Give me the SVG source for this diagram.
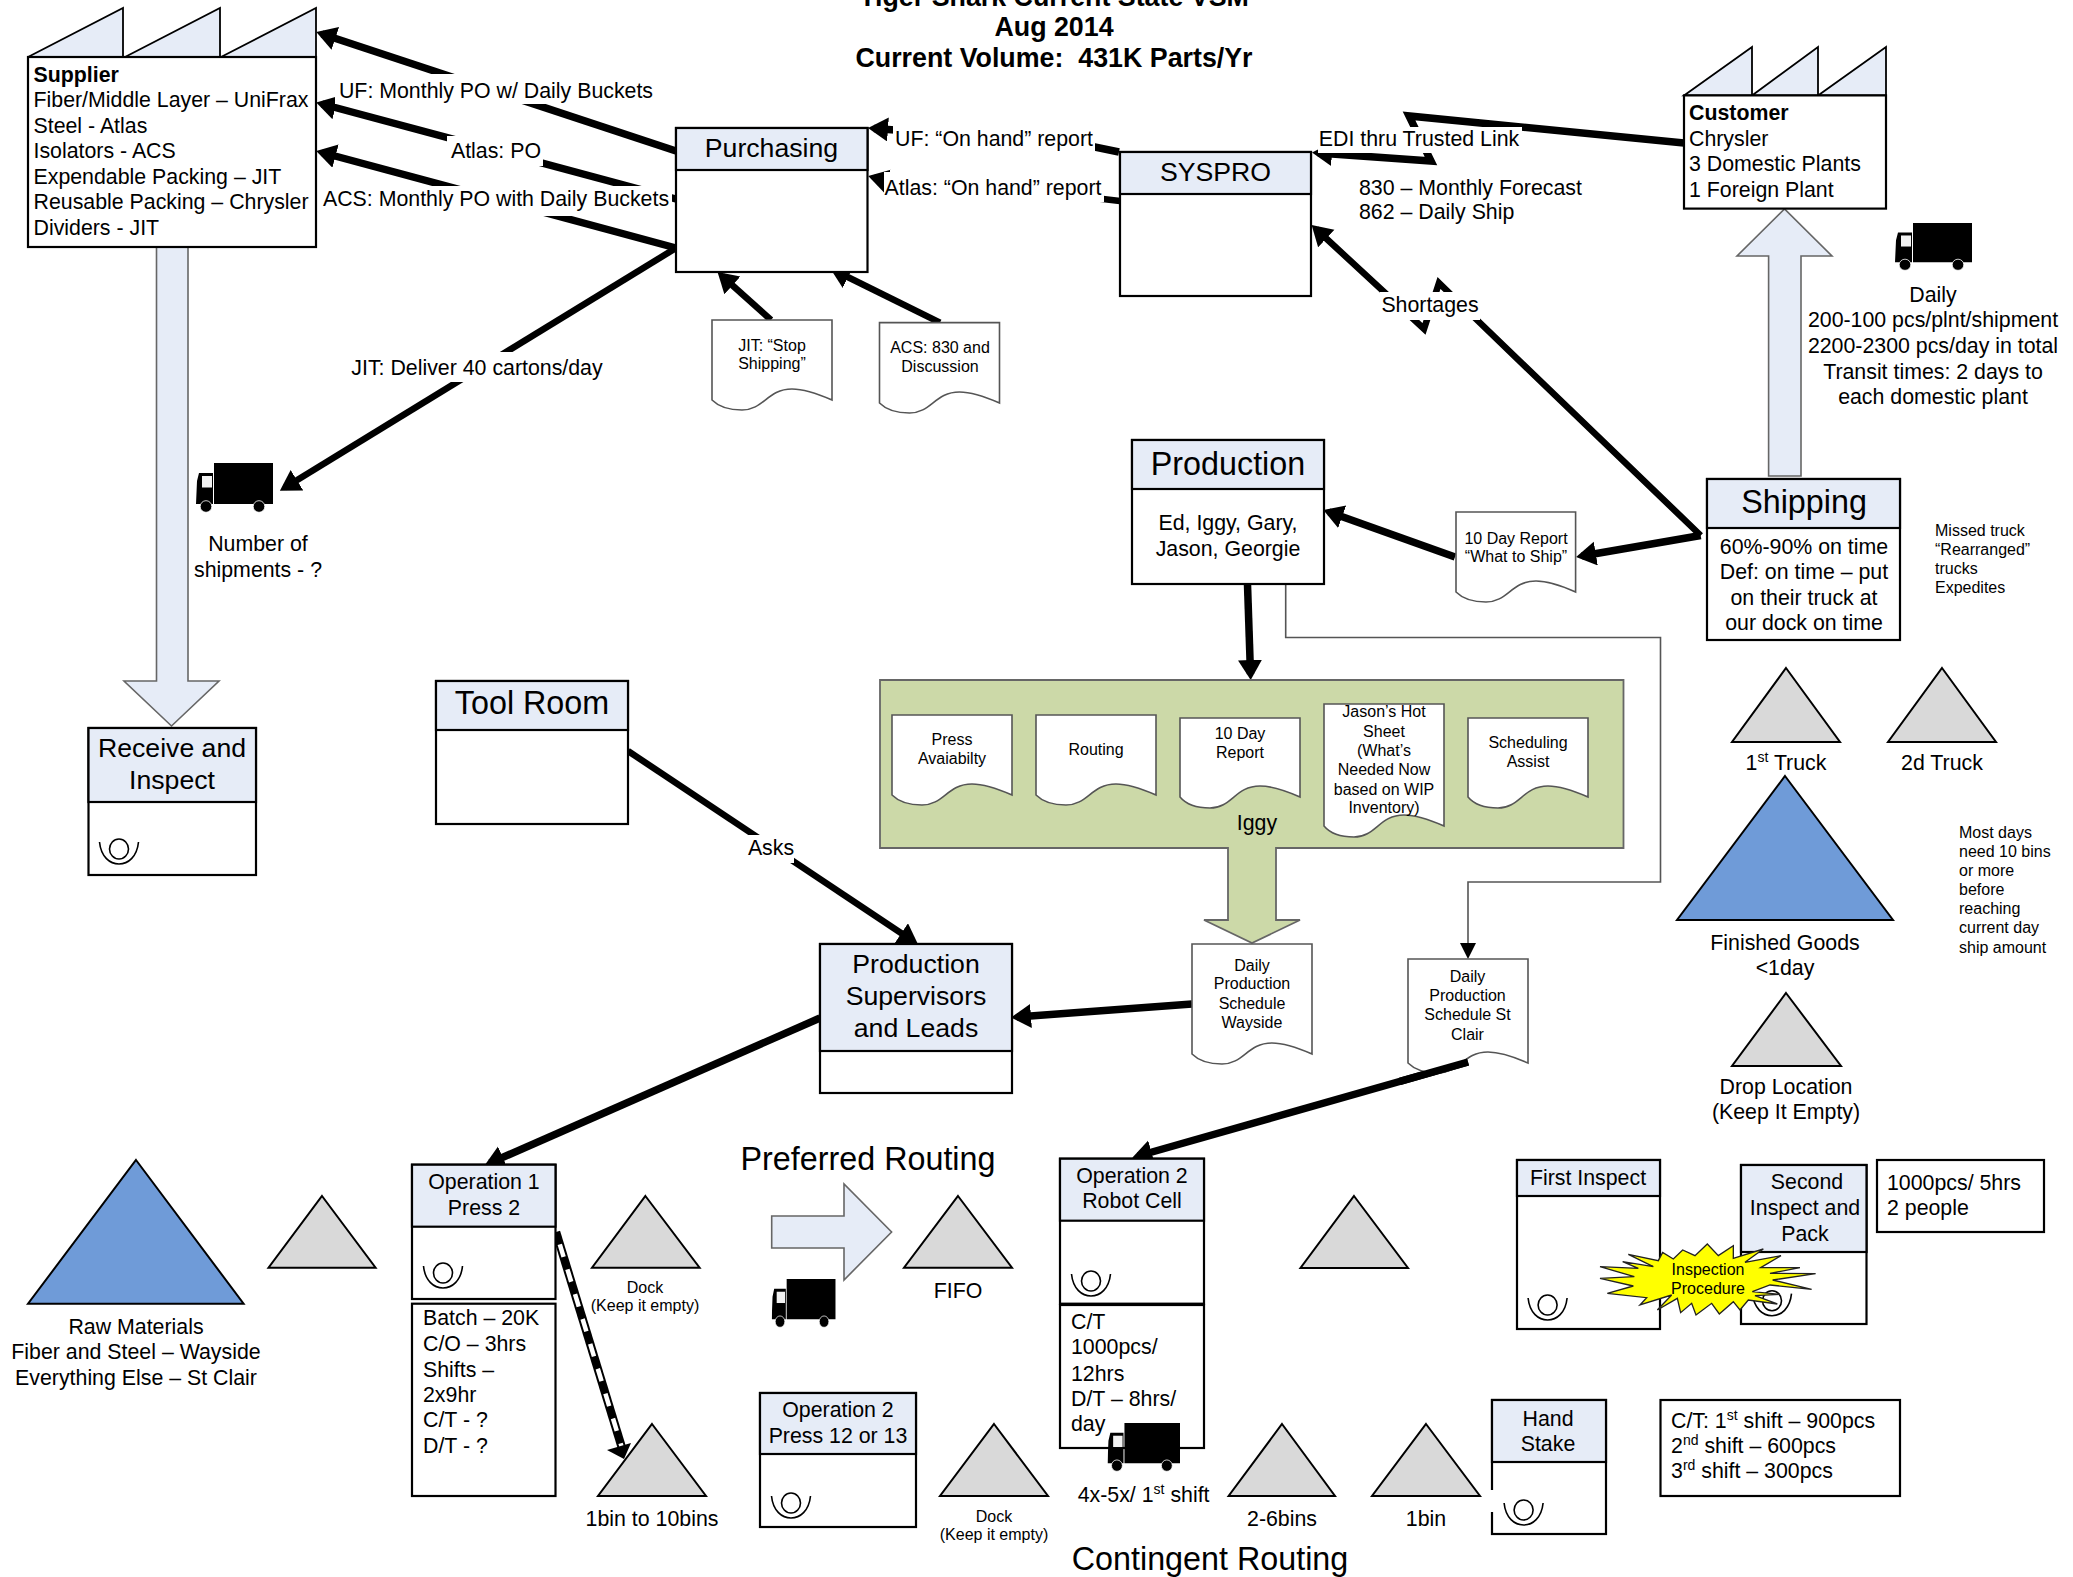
<svg xmlns="http://www.w3.org/2000/svg" width="2073" height="1577" viewBox="0 0 2073 1577">
<style>
text{font-family:"Liberation Sans",Arial,sans-serif;font-size:21.33px;fill:#000}
.m{text-anchor:middle}
.s{font-size:16px}
.h{font-size:26.67px}
.h2{font-size:32.3px}
.t{font-size:26.8px;font-weight:bold;text-anchor:middle}
.b{font-weight:bold}
.box{fill:#fff;stroke:#000;stroke-width:2.2}
.hd{fill:#e6ecf7;stroke:#000;stroke-width:2.2}
.roof{fill:#e6ecf7;stroke:#000;stroke-width:1.8}
.doc{fill:#fff;stroke:#555;stroke-width:1.6}
.tri{fill:#d9d9d9;stroke:#000;stroke-width:2}
.big{fill:#6f9bd8;stroke:#000;stroke-width:2}
.ba{fill:#e6ecf7;stroke:#666;stroke-width:1.6}
.c{fill:none;stroke:#000;stroke-width:7.5;marker-end:url(#ah)}
.c5{fill:none;stroke:#000;stroke-width:6.5;marker-end:url(#ah)}
.n{fill:none;stroke:#000;stroke-width:6.5}
.thin{fill:none;stroke:#555;stroke-width:1.6}
.lbg{fill:#fff;stroke:none}
.op{fill:none;stroke:#000;stroke-width:1.6}
</style>
<defs>
<marker id="ah" markerUnits="userSpaceOnUse" markerWidth="22" markerHeight="26" refX="14" refY="12" orient="auto"><path d="M0,0L20,12L0,24Z" fill="#000"/></marker>
<symbol id="truck" viewBox="0 0 77 50" preserveAspectRatio="none">
<path d="M18,0H77V41H18Z M0,41L1,18L3,10H17V41Z" fill="#000"/>
<rect x="6" y="13" width="10" height="11.500" fill="#f2f2f2"/>
<ellipse cx="10" cy="43.500" rx="5.800" ry="5.800" fill="#000" stroke="#fff" stroke-width="0.800"/><ellipse cx="63" cy="43.500" rx="5.800" ry="5.800" fill="#000" stroke="#fff" stroke-width="0.800"/>
</symbol>
<g id="oper"><ellipse cx="0" cy="0" rx="9.500" ry="10" class="op"/><path d="M-19.500,-7C-18,8 -9,15 0,15C9,15 18,8 19.500,-7" class="op"/></g>
</defs>

<g id="background-arrows">
<path class="ba" d="M156.500,247H188V681H219L171.500,726L124,681H156.500Z"/>
<path class="ba" d="M1768.600,476V256H1737L1784.500,209L1832,256H1801V476Z"/>
<path class="ba" d="M771.700,1216H844V1184L891.600,1232L844,1280V1248H771.700Z"/>
</g>

<g id="title">
<text class="t" x="1054" y="6">Tiger Shark Current State VSM</text>
<text class="t" x="1054" y="36">Aug 2014</text>
<text class="t" x="1054" y="67">Current Volume:&#160; 431K Parts/Yr</text>
</g>

<g id="connectors">
<path class="c" d="M676,151L322,34"/>
<path class="c" d="M676,199L322,104"/>
<path class="c" d="M676,248L322,152.500"/>
<path class="c5" d="M676,248L285,487.500"/>
<path class="c5" d="M771,320L722,276"/>
<path class="c5" d="M940,322.600L835.500,271"/>
<path class="c" d="M1119,152L1090,146L895,130L874,128.500"/>
<path class="c5" d="M1120,201L1103,199L890,182L874,177.500"/>
<path class="c" d="M1684,143L1409,116L1431,161L1318,153"/>
<path class="c5" d="M1700.700,535.500L1476,319L1439,283L1424,329L1316,229"/>
<path class="c" d="M1700.700,535.500L1582,556"/>
<path class="c" d="M1455,557L1329,512"/>
<path class="c" d="M1247.500,584.500L1250.500,674"/>
<path class="thin" d="M1285.700,584.500V637.500H1660.500V882H1468V945"/>
<path d="M1460,943H1476L1468,959Z" fill="#000"/>
<path class="c5" d="M628,751L913,941"/>
<path class="c" d="M1192,1004L1017,1017"/>
<path class="c" d="M820,1018L490,1163"/>
<path class="c" d="M1468,1062L1138,1156"/>
<path fill="none" stroke="#000" stroke-width="8.500" d="M556,1232L622,1448"/>
<path fill="none" stroke="#fff" stroke-width="4.500" stroke-dasharray="13 13" stroke-dashoffset="13" d="M556,1232L622,1448"/>
<path d="M607,1450L631,1443L624,1459Z" fill="#000"/>
</g>

<g id="connector-labels">
<rect class="lbg" x="335" y="74" width="322" height="30"/><text class="m" x="496" y="98">UF: Monthly PO w/ Daily Buckets</text>
<rect class="lbg" x="447" y="136" width="96" height="30"/><text class="m" x="496" y="158">Atlas: PO</text>
<rect class="lbg" x="322" y="186" width="350" height="30"/><text class="m" x="496" y="206">ACS: Monthly PO with Daily Buckets</text>
<rect class="lbg" x="350" y="352" width="255" height="30"/><text class="m" x="477" y="375">JIT: Deliver 40 cartons/day</text>
<rect class="lbg" x="893" y="124" width="202" height="28"/><text class="m" x="994" y="146">UF: “On hand” report</text>
<rect class="lbg" x="884" y="172" width="220" height="30"/><text class="m" x="993" y="195">Atlas: “On hand” report</text>
<rect class="lbg" x="1318" y="127" width="204" height="26"/><text class="m" x="1419" y="146">EDI thru Trusted Link</text>
<rect class="lbg" x="1380" y="292" width="100" height="28"/><text class="m" x="1430" y="312">Shortages</text>
<rect class="lbg" x="748" y="835" width="46" height="28"/><text class="m" x="771" y="855">Asks</text>
</g>

<g id="supplier">
<path class="roof" d="M28,57L123,8V57Z M125,57L220,8V57Z M221,57L316,8V57Z"/>
<rect class="box" x="28" y="57" width="288" height="190"/>
<text x="33.500" y="82" class="b">Supplier</text>
<text x="33.500" y="107">Fiber/Middle Layer – UniFrax</text>
<text x="33.500" y="133">Steel - Atlas</text>
<text x="33.500" y="158">Isolators - ACS</text>
<text x="33.500" y="184">Expendable Packing – JIT</text>
<text x="33.500" y="209">Reusable Packing – Chrysler</text>
<text x="33.500" y="235">Dividers - JIT</text>
</g>

<g id="purchasing">
<rect class="box" x="676" y="128" width="191.500" height="144"/><rect class="hd" x="676" y="128" width="191.500" height="42"/>
<text class="m h" x="771.500" y="157">Purchasing</text>
</g>
<g id="syspro">
<rect class="box" x="1120" y="152" width="191" height="144"/><rect class="hd" x="1120" y="152" width="191" height="42"/>
<text class="m h" x="1215.500" y="181">SYSPRO</text>
</g>
<g id="customer">
<path class="roof" d="M1684,95.400L1752,47V95.400Z M1752,95.400L1818,47V95.400Z M1818,95.400L1886,47V95.400Z"/>
<rect class="box" x="1684" y="95.400" width="202" height="113.200"/>
<text x="1689" y="120" class="b">Customer</text>
<text x="1689" y="146">Chrysler</text>
<text x="1689" y="171">3 Domestic Plants</text>
<text x="1689" y="197">1 Foreign Plant</text>
</g>
<g id="doc-jit">
<path class="doc" d="M712,320H832V400C816,393 802,389 792,389C767,389 764,410 742,410C727,410 717,405 712,400Z"/>
<text class="m s" x="772" y="351">JIT: “Stop</text><text class="m s" x="772" y="369">Shipping”</text>
</g>
<g id="doc-acs">
<path class="doc" d="M879.500,322.600H999.500V403C983.500,396 969.500,392 959.500,392C934.500,392 931.500,413 909.500,413C894.500,413 884.500,408 879.500,403Z"/>
<text class="m s" x="940" y="353">ACS: 830 and</text><text class="m s" x="940" y="372">Discussion</text>
</g>
<g id="truck-supplier"><use href="#truck" x="196" y="463" width="77" height="50"/>
<text class="m" x="258" y="551">Number of</text><text class="m" x="258" y="577">shipments - ?</text></g>
<g id="truck-customer"><use href="#truck" x="1895" y="223" width="77" height="48"/>
<text class="m" x="1933" y="302">Daily</text><text class="m" x="1933" y="327">200-100 pcs/plnt/shipment</text><text class="m" x="1933" y="353">2200-2300 pcs/day in total</text><text class="m" x="1933" y="379">Transit times: 2 days to</text><text class="m" x="1933" y="404">each domestic plant</text></g>
<g id="text-830"><text x="1359" y="195">830 – Monthly Forecast</text><text x="1359" y="219">862 – Daily Ship</text></g>

<g id="production">
<rect class="box" x="1132" y="440" width="192" height="144"/><rect class="hd" x="1132" y="440" width="192" height="49"/>
<text class="m h2" x="1228" y="474.500">Production</text>
<text class="m" x="1228" y="529.500">Ed, Iggy, Gary,</text><text class="m" x="1228" y="556">Jason, Georgie</text>
</g>
<g id="shipping">
<rect class="box" x="1707" y="479" width="193" height="161"/><rect class="hd" x="1707" y="479" width="193" height="49"/>
<text class="m h2" x="1804" y="513">Shipping</text>
<text class="m" x="1804" y="553.500">60%-90% on time</text><text class="m" x="1804" y="579">Def: on time – put</text><text class="m" x="1804" y="604.600">on their truck at</text><text class="m" x="1804" y="630">our dock on time</text>
</g>
<g id="note-missed"><text class="s" x="1935" y="535.500">Missed truck</text><text class="s" x="1935" y="554.500">“Rearranged”</text><text class="s" x="1935" y="573.500">trucks</text><text class="s" x="1935" y="593">Expedites</text></g>
<g id="doc-10day">
<path class="doc" d="M1456,512H1575.600V592C1560,585 1546,581 1536,581C1511,581 1508,602 1486,602C1471,602 1461,597 1456,592Z"/>
<text class="m s" x="1516" y="543.500">10 Day Report</text><text class="m s" x="1516" y="561.500">“What to Ship”</text>
</g>
<g id="receive">
<rect class="box" x="88.500" y="728" width="167.500" height="147"/><rect class="hd" x="88.500" y="728" width="167.500" height="74"/>
<text class="m h" x="172" y="757">Receive and</text><text class="m h" x="172" y="789">Inspect</text>
<use href="#oper" x="119" y="849"/>
</g>
<g id="toolroom">
<rect class="box" x="436" y="681" width="192" height="143"/><rect class="hd" x="436" y="681" width="192" height="49"/>
<text class="m h2" x="532" y="714">Tool Room</text>
</g>

<g id="green-group">
<path d="M880,680H1623.500V848H1276V920H1300L1252,943L1204,920H1228V848H880Z" fill="#ccd9a8" stroke="#666" stroke-width="1.800"/>
<path class="doc" d="M892,715H1012V795C996,788 982,784 972,784C947,784 944,805 922,805C907,805 897,800 892,795Z"/>
<text class="m s" x="952" y="745">Press</text><text class="m s" x="952" y="764">Avaiabilty</text>
<path class="doc" d="M1036,715H1156V795C1140,788 1126,784 1116,784C1091,784 1088,805 1066,805C1051,805 1041,800 1036,795Z"/>
<text class="m s" x="1096" y="755">Routing</text>
<path class="doc" d="M1180,718H1300V797C1284,790 1270,786 1260,786C1235,786 1232,808 1210,808C1195,808 1185,803 1180,797Z"/>
<text class="m s" x="1240" y="739">10 Day</text><text class="m s" x="1240" y="757.800">Report</text>
<path class="doc" d="M1324,704H1444V826C1428,819 1414,815 1404,815C1379,815 1376,837 1354,837C1339,837 1329,832 1324,826Z"/>
<text class="m s" x="1384" y="717">Jason’s Hot</text><text class="m s" x="1384" y="737">Sheet</text><text class="m s" x="1384" y="756">(What’s</text><text class="m s" x="1384" y="775">Needed Now</text><text class="m s" x="1384" y="794.600">based on WIP</text><text class="m s" x="1384" y="813">Inventory)</text>
<path class="doc" d="M1468,718H1588V797C1572,790 1558,786 1548,786C1523,786 1520,808 1498,808C1483,808 1473,803 1468,797Z"/>
<text class="m s" x="1528" y="748">Scheduling</text><text class="m s" x="1528" y="767">Assist</text>
<text class="m" x="1257" y="830">Iggy</text>
</g>

<g id="doc-wayside">
<path class="doc" d="M1192,944H1312V1054C1296,1047 1282,1043 1272,1043C1247,1043 1244,1064 1222,1064C1207,1064 1197,1059 1192,1054Z"/>
<text class="m s" x="1252" y="970.500">Daily</text><text class="m s" x="1252" y="989">Production</text><text class="m s" x="1252" y="1008.600">Schedule</text><text class="m s" x="1252" y="1028">Wayside</text>
</g>
<g id="doc-stclair">
<path class="doc" d="M1408,959H1528V1063C1512,1056 1498,1052 1488,1052C1463,1052 1460,1073 1438,1073C1423,1073 1413,1068 1408,1063Z"/>
<text class="m s" x="1467.500" y="982">Daily</text><text class="m s" x="1467.500" y="1001">Production</text><text class="m s" x="1467.500" y="1020">Schedule St</text><text class="m s" x="1467.500" y="1040">Clair</text>
</g>
<path class="n" style="stroke-width:7.5" d="M1468,1062L1400,1081.400"/>
<g id="supervisors">
<rect class="box" x="820" y="944" width="192" height="149"/><rect class="hd" x="820" y="944" width="192" height="107"/>
<text class="m h" x="916" y="973">Production</text><text class="m h" x="916" y="1005">Supervisors</text><text class="m h" x="916" y="1037">and Leads</text>
</g>

<g id="inv-1st"><path class="tri" d="M1786,668L1840,742H1732Z"/><text class="m" x="1786" y="770">1<tspan dy="-8" font-size="14">st</tspan><tspan dy="8"> Truck</tspan></text></g>
<g id="inv-2d"><path class="tri" d="M1942,668L1996,742H1888Z"/><text class="m" x="1942" y="770">2d Truck</text></g>
<g id="inv-fg"><path class="big" d="M1785,776L1893,920H1677Z"/><text class="m" x="1785" y="950">Finished Goods</text><text class="m" x="1785" y="975">&lt;1day</text></g>
<g id="note-most"><text class="s" x="1959" y="837.500">Most days</text><text class="s" x="1959" y="857">need 10 bins</text><text class="s" x="1959" y="876">or more</text><text class="s" x="1959" y="895">before</text><text class="s" x="1959" y="914">reaching</text><text class="s" x="1959" y="933">current day</text><text class="s" x="1959" y="953">ship amount</text></g>
<g id="inv-drop"><path class="tri" d="M1786,993L1841,1066H1732Z"/><text class="m" x="1786" y="1094">Drop Location</text><text class="m" x="1786" y="1119">(Keep It Empty)</text></g>

<g id="inv-raw"><path class="big" d="M136,1160L243.600,1303.700H28Z"/><text class="m" x="136" y="1334">Raw Materials</text><text class="m" x="136" y="1359">Fiber and Steel – Wayside</text><text class="m" x="136" y="1385">Everything Else – St Clair</text></g>
<g id="inv-a"><path class="tri" d="M322,1196L375.600,1267.700H268.500Z"/></g>
<g id="op1">
<rect class="box" x="412" y="1164.700" width="143.500" height="134.300"/><rect class="hd" x="412" y="1164.700" width="143.500" height="62"/>
<text class="m" x="484" y="1189">Operation 1</text><text class="m" x="484" y="1215">Press 2</text>
<use href="#oper" x="443" y="1273"/>
<rect class="box" x="412" y="1303.700" width="143.500" height="192.300"/>
<text x="423" y="1325">Batch – 20K</text><text x="423" y="1351">C/O – 3hrs</text><text x="423" y="1377">Shifts –</text><text x="423" y="1402">2x9hr</text><text x="423" y="1427">C/T - ?</text><text x="423" y="1453">D/T - ?</text>
</g>
<g id="inv-dock"><path class="tri" d="M645.400,1196L699.600,1267.700H592Z"/><text class="m s" x="645" y="1293">Dock</text><text class="m s" x="645" y="1311">(Keep it empty)</text></g>
<g id="inv-bins"><path class="tri" d="M652,1424L706,1496H598Z"/><text class="m" x="652" y="1526">1bin to 10bins</text></g>
<text class="m h2" x="868" y="1170">Preferred Routing</text>
<use href="#truck" x="771.700" y="1279" width="64" height="49"/>
<g id="inv-fifo"><path class="tri" d="M958,1196L1012,1267.700H904Z"/><text class="m" x="958" y="1298">FIFO</text></g>
<g id="op2-press">
<rect class="box" x="760" y="1393" width="156" height="134"/><rect class="hd" x="760" y="1393" width="156" height="61"/>
<text class="m" x="838" y="1417">Operation 2</text><text class="m" x="838" y="1443">Press 12 or 13</text>
<use href="#oper" x="791" y="1503"/>
</g>
<g id="inv-dock2"><path class="tri" d="M994,1424L1048,1496H940Z"/><text class="m s" x="994" y="1522">Dock</text><text class="m s" x="994" y="1540">(Keep it empty)</text></g>
<g id="op2-robot">
<rect class="box" x="1060" y="1158.700" width="144" height="145"/><rect class="hd" x="1060" y="1158.700" width="144" height="62"/>
<text class="m" x="1132" y="1183">Operation 2</text><text class="m" x="1132" y="1208">Robot Cell</text>
<use href="#oper" x="1091" y="1281"/>
<rect class="box" x="1060" y="1305" width="144" height="143"/>
<text x="1071" y="1329">C/T</text><text x="1071" y="1354">1000pcs/</text><text x="1071" y="1381">12hrs</text><text x="1071" y="1406">D/T – 8hrs/</text><text x="1071" y="1431">day</text>
</g>
<g id="truck-contingent"><use href="#truck" x="1107.500" y="1423" width="72.500" height="49"/>
<text class="m" x="1143.600" y="1502">4x-5x/ 1<tspan dy="-8" font-size="14">st</tspan><tspan dy="8"> shift</tspan></text></g>
<g id="inv-b"><path class="tri" d="M1354,1196L1408,1268H1300.500Z"/></g>
<g id="inv-26"><path class="tri" d="M1282,1424L1335,1496H1228.600Z"/><text class="m" x="1282" y="1526">2-6bins</text></g>
<g id="inv-1bin"><path class="tri" d="M1426,1424L1480,1496H1372Z"/><text class="m" x="1426" y="1526">1bin</text></g>
<g id="handstake">
<rect class="box" x="1492" y="1400" width="114" height="134"/><rect class="hd" x="1492" y="1400" width="114" height="62"/>
<text class="m" x="1548" y="1425.600">Hand</text><text class="m" x="1548" y="1451">Stake</text>
<rect x="1490" y="1490" width="4" height="22" fill="#fff"/>
<use href="#oper" x="1523.600" y="1510"/>
</g>
<g id="ct-box">
<rect class="box" x="1660.500" y="1400" width="239.500" height="96"/>
<text x="1671" y="1428">C/T: 1<tspan dy="-8" font-size="14">st</tspan><tspan dy="8"> shift – 900pcs</tspan></text>
<text x="1671" y="1453">2<tspan dy="-8" font-size="14">nd</tspan><tspan dy="8"> shift – 600pcs</tspan></text>
<text x="1671" y="1478">3<tspan dy="-8" font-size="14">rd</tspan><tspan dy="8"> shift – 300pcs</tspan></text>
</g>
<text class="m h2" x="1210" y="1570">Contingent Routing</text>
<g id="first-inspect">
<rect class="box" x="1517" y="1160" width="143" height="169"/><rect class="hd" x="1517" y="1160" width="143" height="36"/>
<text class="m" x="1588" y="1185">First Inspect</text>
<use href="#oper" x="1547.600" y="1305"/>
</g>
<g id="second-inspect">
<rect class="box" x="1741" y="1165" width="125.500" height="159"/><rect class="hd" x="1741" y="1165" width="125.500" height="87"/>
<text class="m" x="1807" y="1189">Second</text><text class="m" x="1805" y="1215">Inspect and</text><text class="m" x="1805" y="1241">Pack</text>
<use href="#oper" x="1772" y="1300.700"/>
</g>
<g id="rate-box">
<rect class="box" x="1877" y="1160" width="167" height="72"/>
<text x="1887" y="1190">1000pcs/ 5hrs</text><text x="1887" y="1215">2 people</text>
</g>
<g id="burst">
<polygon transform="translate(1590,1235) scale(.3333)" fill="#ffff00" stroke="#222" stroke-width="4" points="352,27 385,62 430,32 430,70 520,42 465,82 573,62 512,98 630,98 540,115 677,116 548,135 665,163 540,150 487,170 570,178 495,182 562,207 475,195 450,225 430,200 388,237 365,205 318,240 305,205 272,233 262,190 202,225 245,180 150,210 170,188 52,175 130,153 30,130 133,125 30,95 145,100 98,80 190,95 115,58 205,77 218,52 250,72 278,45 315,62"/>
<text class="m s" x="1708" y="1275">Inspection</text><text class="m s" x="1708" y="1294">Procedure</text>
</g>
</svg>
